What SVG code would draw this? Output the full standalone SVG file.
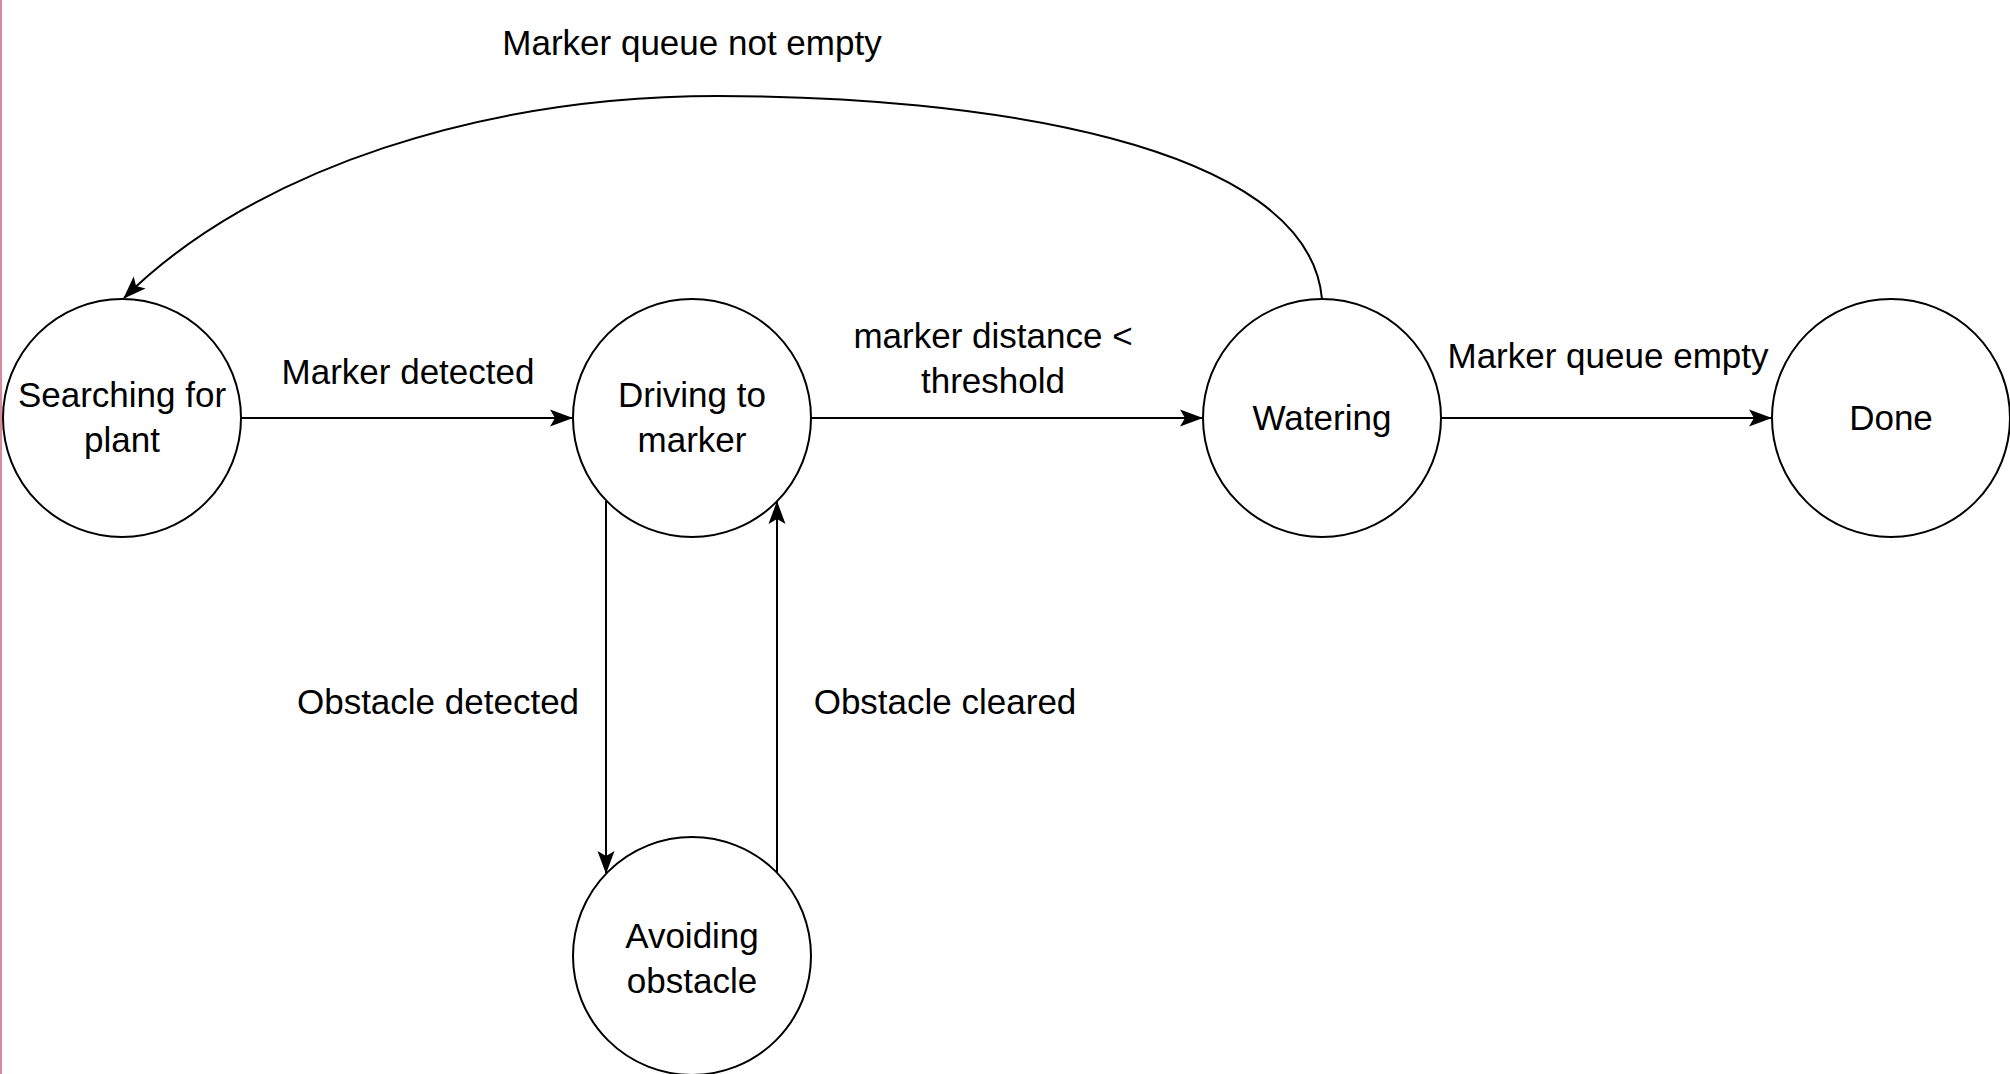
<svg xmlns="http://www.w3.org/2000/svg" width="2010" height="1074" viewBox="0 0 2010 1074">
<style>
.node{fill:#ffffff;stroke:#000000;stroke-width:2}
.edge{fill:none;stroke:#000000;stroke-width:2}
text{font-family:"Liberation Sans",Arial,Helvetica,sans-serif;font-size:35px;fill:#000000;text-anchor:middle}
</style>
<defs>
<marker id="arr" viewBox="0 0 23 18" refX="22" refY="9" markerWidth="23" markerHeight="18" markerUnits="userSpaceOnUse" orient="auto">
<path d="M0,0.5 L23,9 L0,17.5 L5,9 Z" fill="#000000"/>
</marker>
</defs>
<rect x="0" y="0" width="2010" height="1074" fill="#ffffff"/>
<line x1="1" y1="0" x2="1" y2="1074" stroke="#d88a9a" stroke-width="2"/>
<g id="connectors">
<g id="e-search-drive"><line class="edge" x1="241" y1="418" x2="572" y2="418" marker-end="url(#arr)"/><text x="408" y="384">Marker detected</text></g>
<g id="e-drive-water"><line class="edge" x1="811" y1="418" x2="1202" y2="418" marker-end="url(#arr)"/><text x="993" y="348">marker distance &lt;</text><text x="993" y="393">threshold</text></g>
<g id="e-water-done"><line class="edge" x1="1441" y1="418" x2="1771" y2="418" marker-end="url(#arr)"/><text x="1608" y="368">Marker queue empty</text></g>
<g id="e-drive-avoid"><line class="edge" x1="606" y1="501" x2="606" y2="873" marker-end="url(#arr)"/><text x="438" y="714">Obstacle detected</text></g>
<g id="e-avoid-drive"><line class="edge" x1="777" y1="873" x2="777" y2="502" marker-end="url(#arr)"/><text x="945" y="714">Obstacle cleared</text></g>
<g id="e-water-search"><path class="edge" d="M1322,299 C1308,141 974,96 718,96 C487,96 256,167 124,298" marker-end="url(#arr)"/><text x="692" y="55">Marker queue not empty</text></g>
</g>
<g id="searching"><circle class="node" cx="122" cy="418" r="119"/><text x="122" y="407">Searching for</text><text x="122" y="452">plant</text></g>
<g id="driving"><circle class="node" cx="692" cy="418" r="119"/><text x="692" y="407">Driving to</text><text x="692" y="452">marker</text></g>
<g id="watering"><circle class="node" cx="1322" cy="418" r="119"/><text x="1322" y="430">Watering</text></g>
<g id="done"><circle class="node" cx="1891" cy="418" r="119"/><text x="1891" y="430">Done</text></g>
<g id="avoiding"><circle class="node" cx="692" cy="956" r="119"/><text x="692" y="948">Avoiding</text><text x="692" y="993">obstacle</text></g>
</svg>
